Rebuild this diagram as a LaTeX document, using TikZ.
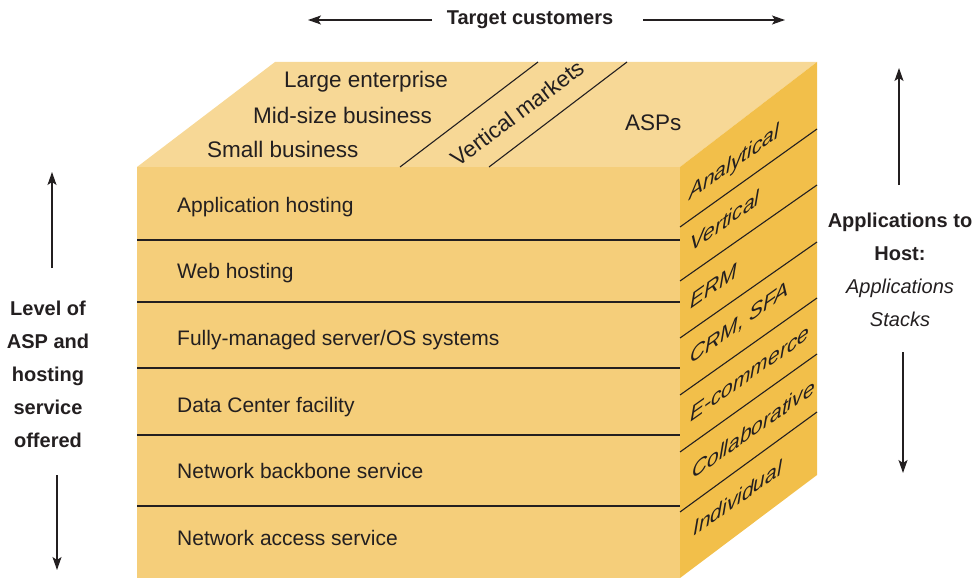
\documentclass[tikz,border=0pt]{standalone}
\usepackage{fontspec}
\setmainfont{Liberation Sans}
\usetikzlibrary{arrows.meta}
\definecolor{topc}{RGB}{247,216,150}
\definecolor{frontc}{RGB}{245,206,122}
\definecolor{sidec}{RGB}{242,191,74}
\definecolor{ink}{RGB}{35,31,32}
\begin{document}
\begin{tikzpicture}[x=1pt,y=-1pt,
  every node/.style={text=ink, inner sep=0pt},
  fronttxt/.style={anchor=west, font=\fontsize{21}{25}\selectfont, text height=15pt, text depth=0pt},
  toptxt/.style={anchor=west, font=\fontsize{22.5}{27}\selectfont, text height=16pt, text depth=0pt},
  sidetxt/.style={anchor=base west, font=\fontsize{21}{25}\selectfont\itshape, yslant=0.71, transform shape},
  lbl/.style={font=\fontsize{20}{33}\selectfont\bfseries, align=center},
  arr/.style={draw=ink, line width=1.3pt, -{Stealth[length=13pt,width=9pt,inset=3pt]}},
  divline/.style={draw=ink, line width=1.1pt}]
\useasboundingbox (0,0) rectangle (975,578);
% faces
\fill[topc] (137,167) -- (275,62) -- (817,62) -- (680,167) -- cycle;
\fill[frontc] (137,167) rectangle (680,578);
\fill[sidec] (680,167) -- (817,62) -- (817,475) -- (680,578) -- cycle;
% front dividers
\foreach \y in {240,302,368,435,506} \draw[divline] (137,\y) -- (680,\y);
% side dividers
\draw[divline] (680,227) -- (817,129);
\draw[divline] (680,281) -- (817,185);
\draw[divline] (680,338) -- (817,242);
\draw[divline] (680,395) -- (817,298);
\draw[divline] (680,452) -- (817,354);
\draw[divline] (680,512) -- (817,412);
% top dividers
\draw[divline] (400,167) -- (538,62);
\draw[divline] (489,167) -- (627,62);
% top texts
\node[toptxt] (le) at (284,80) {Large enterprise};
\node[toptxt] (mb) at (253,115) {Mid-size business};
\node[toptxt] (sb) at (207,149) {Small business};
\node[font=\fontsize{22.5}{27}\selectfont, rotate=37] (vm) at (517,113) {Vertical markets};
\node[toptxt] (asp) at (625,122) {ASPs};
% front texts
\node[fronttxt] (ah) at (177,205) {Application hosting};
\node[fronttxt] (wh) at (177,271) {Web hosting};
\node[fronttxt] (fm) at (177,338) {Fully-managed server/OS systems};
\node[fronttxt] (dc) at (177,405) {Data Center facility};
\node[fronttxt] (nb) at (177,471) {Network backbone service};
\node[fronttxt] (na) at (177,538) {Network access service};
% side texts
\node[sidetxt] (an) at (689,201) {Analytical};
\node[sidetxt] (ve) at (690,253) {Vertical};
\node[sidetxt] (erm) at (690,310) {ERM};
\node[sidetxt] (crm) at (690,365) {CRM, SFA};
\node[sidetxt] (ec) at (690,423) {E-commerce};
\node[sidetxt] (co) at (692,480) {Collaborative};
\node[sidetxt] (in) at (693,537) {Individual};
% labels
\node[lbl] (tc) at (530,20) {Target customers};
\coordinate (tcl0) at (432,20); \coordinate (tcl1) at (308,20);
\coordinate (tcr0) at (643,20); \coordinate (tcr1) at (785,20);
\draw[arr] (tcl0) -- (tcl1);
\draw[arr] (tcr0) -- (tcr1);
\node[lbl] (lv) at (48,374) {Level of\\ASP and\\hosting\\service\\offered};
\coordinate (lu0) at (52,268); \coordinate (lu1) at (52,172);
\coordinate (ld0) at (57,475); \coordinate (ld1) at (57,570);
\draw[arr] (lu0) -- (lu1);
\draw[arr] (ld0) -- (ld1);
\node[lbl] (ap) at (900,270) {Applications to\\Host:\\\mdseries\itshape Applications\\\mdseries\itshape Stacks};
\coordinate (ru0) at (899,185); \coordinate (ru1) at (899,68);
\coordinate (rd0) at (903,352); \coordinate (rd1) at (903,473);
\draw[arr] (ru0) -- (ru1);
\draw[arr] (rd0) -- (rd1);
\end{tikzpicture}
\end{document}
